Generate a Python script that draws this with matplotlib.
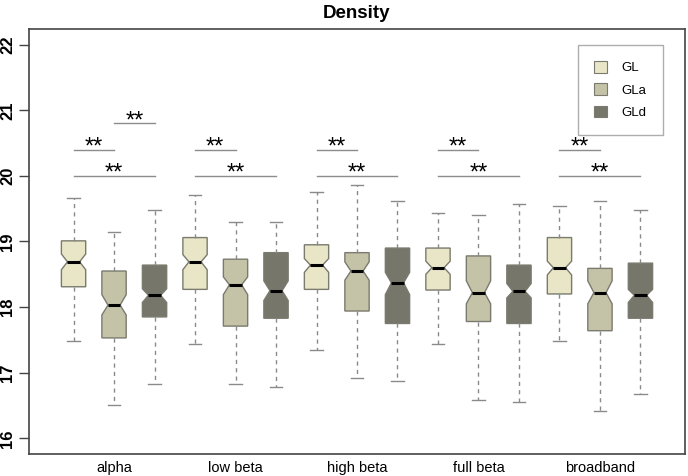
import matplotlib.pyplot as plt
from matplotlib.patches import Patch

plt.rcParams['font.family'] = ['Liberation Sans', 'DejaVu Sans']

bands = ["alpha", "low beta", "high beta", "full beta", "broadband"]
groups = ["GL", "GLa", "GLd"]
colors = ["#e8e6c7", "#c4c3a8", "#76766a"]

# box stats per band, order GL, GLa, GLd
q1 = [[18.31, 17.53, 17.85], [18.27, 17.71, 17.83], [18.27, 17.94, 17.75],
      [18.26, 17.78, 17.75], [18.20, 17.64, 17.83]]
med = [[18.69, 18.03, 18.18], [18.69, 18.34, 18.25], [18.64, 18.55, 18.37],
       [18.60, 18.22, 18.24], [18.60, 18.22, 18.18]]
q3 = [[19.01, 18.55, 18.64], [19.06, 18.73, 18.83], [18.95, 18.83, 18.90],
      [18.90, 18.78, 18.64], [19.06, 18.59, 18.67]]
whis_lo = [[17.48, 16.50, 16.83], [17.43, 16.83, 16.78], [17.34, 16.92, 16.87],
           [17.43, 16.59, 16.55], [17.48, 16.41, 16.68]]
whis_hi = [[19.67, 19.15, 19.48], [19.71, 19.29, 19.29], [19.76, 19.86, 19.62],
           [19.44, 19.40, 19.57], [19.54, 19.62, 19.48]]
ci_lo = [[18.57, 17.88, 18.07], [18.57, 18.19, 18.10], [18.53, 18.41, 18.19],
         [18.50, 18.05, 18.14], [18.49, 18.05, 18.07]]
ci_hi = [[18.81, 18.19, 18.28], [18.80, 18.46, 18.40], [18.74, 18.69, 18.53],
         [18.70, 18.40, 18.36], [18.70, 18.40, 18.27]]

# significance bars: (band index, group a, group b, height)
sig_bars = [(0, 0, 1, 20.4), (0, 0, 2, 20.0), (0, 1, 2, 20.8),
            (1, 0, 1, 20.4), (1, 0, 2, 20.0),
            (2, 0, 1, 20.4), (2, 0, 2, 20.0),
            (3, 0, 1, 20.4), (3, 0, 2, 20.0),
            (4, 0, 1, 20.4), (4, 0, 2, 20.0)]

fig = plt.figure(figsize=(6.88, 4.76), dpi=100)
ax = fig.add_axes([29 / 688, 22 / 476, 656 / 688, 425 / 476])

stats = []
positions = []
box_colors = []
for i in range(len(bands)):
    for j in range(len(groups)):
        stats.append(dict(med=med[i][j], q1=q1[i][j], q3=q3[i][j],
                          whislo=whis_lo[i][j], whishi=whis_hi[i][j],
                          cilo=ci_lo[i][j], cihi=ci_hi[i][j], fliers=[]))
        positions.append(i * 3 + j + 1)
        box_colors.append(colors[j])

bp = ax.bxp(stats, positions=positions, widths=0.6, shownotches=True,
            patch_artist=True, showfliers=False,
            boxprops=dict(edgecolor="#7a7a6e", linewidth=1.0),
            medianprops=dict(color="black", linewidth=2.2),
            whiskerprops=dict(color="#8a8a8a", linewidth=1.0, linestyle=(0, (3, 3))),
            capprops=dict(color="#8a8a8a", linewidth=1.0))
for patch, c in zip(bp["boxes"], box_colors):
    patch.set_facecolor(c)

for band, a, b, h in sig_bars:
    xa = band * 3 + a + 1
    xb = band * 3 + b + 1
    ax.plot([xa, xb], [h, h], color="#8c8c8c", linewidth=1.0)
    ax.text((xa + xb) / 2, h - 0.06, "**", ha="center", va="baseline",
            fontsize=17)

ax.set_xlim(-0.1, 16.1)
ax.set_ylim(15.76, 22.24)
ax.set_yticks([16, 17, 18, 19, 20, 21, 22])
ax.set_yticklabels(["16", "17", "18", "19", "20", "21", "22"],
                   rotation=90, va="center", fontsize=12, fontweight="bold")
ax.tick_params(axis="y", length=7, width=1.0, color="#444444", pad=3)
ax.set_xticks([2, 5, 8, 11, 14])
ax.set_xticklabels(bands, fontsize=10.5)
ax.tick_params(axis="x", length=0, pad=5)

for s in ax.spines.values():
    s.set_color("#444444")
    s.set_linewidth(1.2)

ax.set_title("Density", fontsize=13.5, fontweight="bold", pad=8)

handles = [Patch(facecolor=c, edgecolor="#7a7a6e", linewidth=0.8) for c in colors]
leg = ax.legend(handles, groups, loc="upper right", bbox_to_anchor=(0.966, 0.962),
                borderaxespad=0, fancybox=False, fontsize=9.5,
                handlelength=1.0, handleheight=1.0, labelspacing=0.67,
                handletextpad=1.1, borderpad=1.2)
leg.get_frame().set_edgecolor("#999999")
leg.get_frame().set_linewidth(1.0)

fig.savefig("out.png", dpi=100)
